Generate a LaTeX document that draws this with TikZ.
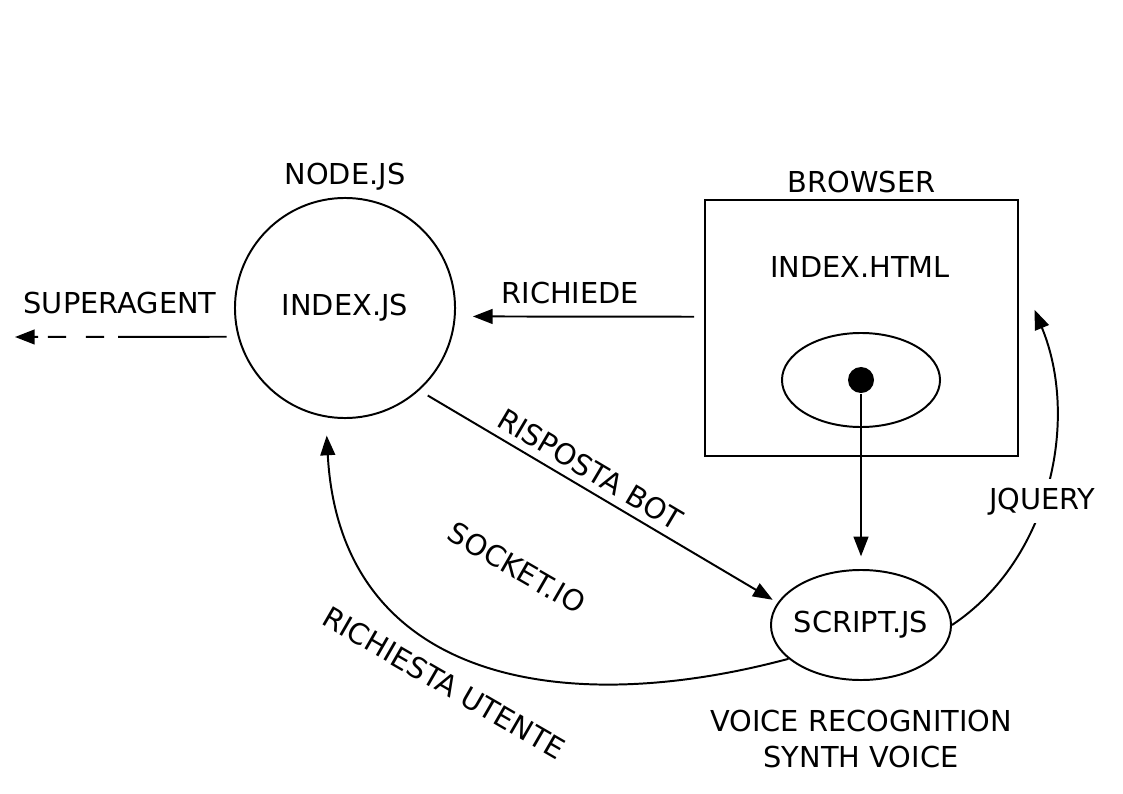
\documentclass[tikz,border=0pt]{standalone}
\usepackage{fontspec}
\setmainfont{DejaVu Sans}
\usetikzlibrary{arrows.meta,shapes.geometric,positioning}
\tikzset{
  arr/.style={-{Triangle[length=14pt,width=10.5pt]}},
  lbl/.style={font=\fontsize{20.5}{25.6}\selectfont}
}
\begin{document}
\begin{tikzpicture}[x=0.025cm,y=-0.025cm,line width=1.4pt,every node/.style={lbl}]
            \useasboundingbox (0,0) rectangle (1123,794);
            \node[circle, draw, minimum size=5.5cm, label={[label distance=1pt]above:NODE.JS}] (indexjs) at (345,308) {INDEX.JS};
            \node[rectangle, draw, minimum width=7.825cm, minimum height=6.4cm, label=above:BROWSER] (browser) at (861.5,328) {};
            \node (html) at (860,267) {INDEX.HTML};
            \node[ellipse, draw, minimum width=3.95cm, minimum height=2.35cm, inner sep=0pt] (page) at (861,380) {};
            \node[circle, fill, minimum size=0.65cm, inner sep=0pt] (dot) at (861,380) {};
            \node[ellipse, draw, minimum width=4.5cm, minimum height=2.75cm, inner sep=0pt, label=center:SCRIPT.JS] (script) at (861,625) {};
            \node[align=center, below=17pt of script] (voice) {VOICE RECOGNITION\\SYNTH VOICE};
            \coordinate (sa) at (15,337);
            \node (superagent) at (120,303) {SUPERAGENT};
            \draw[arr, shorten <=8pt, dash pattern=on 77pt off 10pt on 13pt off 14pt on 13pt off 7pt] (indexjs.195) -- (sa);
            \draw[arr] ([xshift=-7pt,yshift=8pt]browser.west) -- node[pos=0.56, above=5pt]{RICHIEDE} ([xshift=12pt,yshift=-6pt]indexjs.east);
            \draw[arr] (dot) -- ([yshift=9pt]script.north);
            \draw[arr, shorten <=7pt, shorten >=4pt] (indexjs.-48) -- node[pos=0.45, sloped, above=2pt]{RISPOSTA BOT} (script.165);
            \node[rotate=-30] (socket) at (517,568) {SOCKET.IO};
            \draw[arr, shorten >=13pt] (script.205) .. controls (560,720) and (340,680) .. (indexjs.-100);
            \node[rotate=-30] (richiesta) at (444,683) {RICHIESTA UTENTE};
            \draw[arr] (script.east) .. controls (1050,560) and (1080,420) .. node[pos=0.45, fill=white, inner sep=6pt]{JQUERY} ([xshift=11pt,yshift=13pt]browser.east);
            \end{tikzpicture}
\end{document}
